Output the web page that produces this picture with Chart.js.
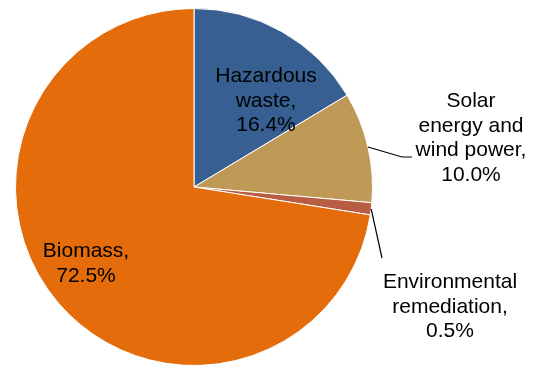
<!DOCTYPE html>
<html>
<head>
<meta charset="utf-8">
<script src="https://cdn.jsdelivr.net/npm/chart.js@4.4.1/dist/chart.umd.min.js"></script>
<style>
  html, body { margin: 0; padding: 0; background: #fff; }
  #wrap { width: 542px; height: 369px; position: relative; }
</style>
</head>
<body>
<div id="wrap"><canvas id="pieChart"></canvas></div>
<script>
// Categories, drawn shares and the label texts as printed on the chart
const categories = ['Hazardous waste', 'Solar energy and wind power', 'Environmental remediation', 'Biomass'];
const shares = [16.4, 10.0, 1.1, 72.5];
const labelLines = [
    ['Hazardous', 'waste,', '16.4%'],
    ['Solar', 'energy and', 'wind power,', '10.0%'],
    ['Environmental', 'remediation,', '0.5%'],
    ['Biomass,', '72.5%']
];
const colors = ['#375F92', '#BF9A56', '#B85C44', '#E56C0A'];

// where each label block sits (centre x, first baseline y) and leader line bends
const labelPlace = [
    { x: 266, y: 82, leader: null },
    { x: 471, y: 107, leader: [[402, 157], [412, 157]] },
    { x: 450, y: 288, leader: [[382, 258]] },
    { x: 86, y: 257, leader: null }
];

// Draw the data labels and leader lines after the pie
const pieLabels = {
    id: 'pieLabels',
    afterDatasetsDraw(chart) {
        const ctx = chart.ctx;
        const meta = chart.getDatasetMeta(0);
        ctx.save();
        ctx.font = '21px "Liberation Sans", Arial, sans-serif';
        ctx.fillStyle = '#000';
        ctx.textAlign = 'center';
        ctx.textBaseline = 'alphabetic';
        meta.data.forEach((arc, i) => {
            const place = labelPlace[i];
            if (place.leader) {
                const p = arc.getProps(['x', 'y', 'startAngle', 'endAngle', 'outerRadius'], true);
                const mid = (p.startAngle + p.endAngle) / 2;
                ctx.beginPath();
                ctx.strokeStyle = '#000';
                ctx.lineWidth = 1.2;
                ctx.moveTo(p.x + Math.cos(mid) * p.outerRadius, p.y + Math.sin(mid) * p.outerRadius);
                place.leader.forEach(pt => ctx.lineTo(pt[0], pt[1]));
                ctx.stroke();
            }
            labelLines[i].forEach((line, k) => {
                ctx.fillText(line, place.x, place.y + k * 24.5);
            });
        });
        ctx.restore();
    }
};

new Chart(document.getElementById('pieChart'), {
    type: 'pie',
    data: {
        labels: categories,
        datasets: [{
            data: shares,
            backgroundColor: colors,
            borderColor: '#fff',
            borderWidth: 1
        }]
    },
    options: {
        responsive: true,
        maintainAspectRatio: false,
        animation: false,
        layout: { padding: { left: 15, right: 169, top: 8, bottom: 3 } },
        plugins: {
            legend: { display: false },
            tooltip: { enabled: false }
        }
    },
    plugins: [pieLabels]
});
</script>
</body>
</html>
